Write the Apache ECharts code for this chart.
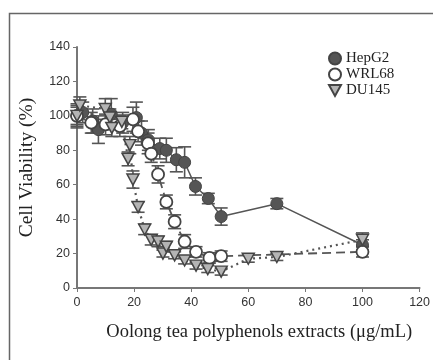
<!DOCTYPE html>
<html>
<head>
<meta charset="utf-8">
<script src="https://cdn.jsdelivr.net/npm/echarts@6/dist/echarts.min.js"></script>
<style>html,body{margin:0;padding:0;background:#fff;}#c{width:433px;height:360px;}</style>
</head>
<body>
<div id="c"></div>
<script>
// ---- data ----
const xTicks = [0, 20, 40, 60, 80, 100, 120];
const yTicks = [0, 20, 40, 60, 80, 100, 120, 140];

const hepX = [0, 2, 5.5, 7.5, 12, 16, 20.8, 22.6, 25, 29, 31.3, 34.8, 37.7, 41.5, 46, 50.5, 70, 100];
const hepY = [100, 102, 97, 92, 101, 96, 99, 90, 86, 81, 80, 74.5, 73, 59, 52, 41.5, 49, 25];
const hepE = [7, 6, 7, 8, 9, 6, 9, 7, 6, 6, 7, 7, 9, 5, 3, 5, 3, 3];

const wrlX = [0, 5, 10, 15, 19.6, 21.4, 24.9, 26, 28.4, 31.3, 34.2, 37.7, 41.7, 46.4, 50.5, 100];
const wrlY = [100, 96, 95, 94, 98, 91, 84, 78, 66, 50, 38.5, 27, 21, 17.5, 18.5, 21];
const wrlE = [6, 6, 6, 6, 7, 6, 6, 5, 5, 4, 4, 4, 3, 3, 3, 3];

const duX = [0, 1, 9.9, 11.5, 12.2, 15.7, 17.9, 18.5, 19.6, 21.4, 23.7, 26, 28.4, 30.1, 31.3, 34.2, 37.7, 41.7, 45.8, 50.5, 60, 70, 100];
const duY = [100, 106, 104, 99, 93, 96.5, 75, 83, 63, 47, 34, 28, 27, 20, 24, 19, 16, 13, 11, 9.5, 17, 18, 28];
const duE = [5, 5, 6, 5, 5, 4, 4, 5, 5, 3, 3, 3, 3, 2, 3, 2, 2, 2, 2, 2, 2, 2, 4];

const names = ['HepG2', 'WRL68', 'DU145'];
// ---------------

const zip = (xs, ys) => xs.map((x, i) => [x, ys[i]]);
const zip3 = (xs, ys, es) => xs.map((x, i) => [x, ys[i], es[i]]);

const triPath = 'path://M0,0L12,0L6,11Z';
const edge = '#444';

function errRender(params, api) {
  const x = api.value(0), y = api.value(1), e = api.value(2);
  const t = api.coord([x, y + e]);
  const b = api.coord([x, y - e]);
  const w = 6.5;
  const st = { stroke: '#555', lineWidth: 1.6 };
  return {
    type: 'group',
    children: [
      { type: 'line', shape: { x1: t[0], y1: t[1], x2: b[0], y2: b[1] }, style: st },
      { type: 'line', shape: { x1: t[0] - w, y1: t[1], x2: t[0] + w, y2: t[1] }, style: st },
      { type: 'line', shape: { x1: b[0] - w, y1: b[1], x2: b[0] + w, y2: b[1] }, style: st }
    ]
  };
}

const serif = 'Liberation Serif';
const sans = 'Liberation Sans';

const option = {
  animation: false,
  backgroundColor: '#fff',
  grid: { left: 77, right: 12, top: 47, bottom: 72 },
  graphic: [
    { type: 'rect', shape: { x: 9.5, y: 13.5, width: 600, height: 600 },
      style: { fill: 'none', stroke: '#666', lineWidth: 1.5 }, z: -10 }
  ],
  legend: {
    orient: 'vertical',
    left: 323, top: 46,
    itemWidth: 12, itemHeight: 12, itemGap: 1,
    textStyle: { fontFamily: serif, fontSize: 15, color: '#222' },
    data: names
  },
  xAxis: {
    type: 'value', min: 0, max: 120, interval: 20,
    name: 'Oolong tea polyphenols extracts (μg/mL)',
    nameLocation: 'middle', nameGap: 35,
    nameTextStyle: { fontFamily: serif, fontSize: 18.5, color: '#222', padding: [0, 0, 0, 22] },
    axisLine: { lineStyle: { color: '#777', width: 2 } },
    axisTick: { show: true, length: 4, lineStyle: { color: '#777' } },
    axisLabel: { fontFamily: sans, fontSize: 12.5, color: '#333', margin: 8,
      formatter: v => xTicks.includes(v) ? String(v) : '' },
    splitLine: { show: false }
  },
  yAxis: {
    type: 'value', min: 0, max: 140, interval: 20,
    name: 'Cell Viability (%)',
    nameLocation: 'middle', nameGap: 40, nameRotate: 90,
    nameTextStyle: { fontFamily: serif, fontSize: 19.5, color: '#222' },
    axisLine: { show: true, lineStyle: { color: '#777', width: 2 } },
    axisTick: { show: true, length: 4, lineStyle: { color: '#777' } },
    axisLabel: { fontFamily: sans, fontSize: 12.5, color: '#333', margin: 7,
      formatter: v => yTicks.includes(v) ? String(v) : '' },
    splitLine: { show: false }
  },
  series: [
    { name: 'HepG2-line', type: 'line', data: zip(hepX, hepY), showSymbol: false, symbol: 'none',
      lineStyle: { color: '#555', width: 1.5, type: 'solid' }, z: 1 },
    { name: 'WRL68-line', type: 'line', data: zip(wrlX, wrlY), showSymbol: false, symbol: 'none',
      lineStyle: { color: '#555', width: 1.8, type: [9, 5] }, z: 1 },
    { name: 'DU145-line', type: 'line', data: zip(duX, duY), showSymbol: false, symbol: 'none',
      lineStyle: { color: '#555', width: 2.2, type: [2, 4] }, z: 1 },
    { name: 'HepG2-err', type: 'custom', renderItem: errRender, data: zip3(hepX, hepY, hepE), z: 2 },
    { name: 'WRL68-err', type: 'custom', renderItem: errRender, data: zip3(wrlX, wrlY, wrlE), z: 2 },
    { name: 'DU145-err', type: 'custom', renderItem: errRender, data: zip3(duX, duY, duE), z: 2 },
    { name: 'HepG2', type: 'scatter', data: zip(hepX, hepY), symbol: 'circle', symbolSize: 12,
      itemStyle: { color: '#555', borderColor: edge, borderWidth: 1, opacity: 1 }, z: 3 },
    { name: 'WRL68', type: 'scatter', data: zip(wrlX, wrlY), symbol: 'circle', symbolSize: 12,
      itemStyle: { color: '#fff', borderColor: edge, borderWidth: 1.8, opacity: 1 }, z: 4 },
    { name: 'DU145', type: 'scatter', data: zip(duX, duY), symbol: triPath, symbolSize: [12, 11],
      itemStyle: { color: '#b4b4b4', borderColor: edge, borderWidth: 1.5, opacity: 1 }, z: 5 }
  ]
};

const chart = echarts.init(document.getElementById('c'), null, { renderer: 'canvas' });
chart.setOption(option);
</script>
</body>
</html>
